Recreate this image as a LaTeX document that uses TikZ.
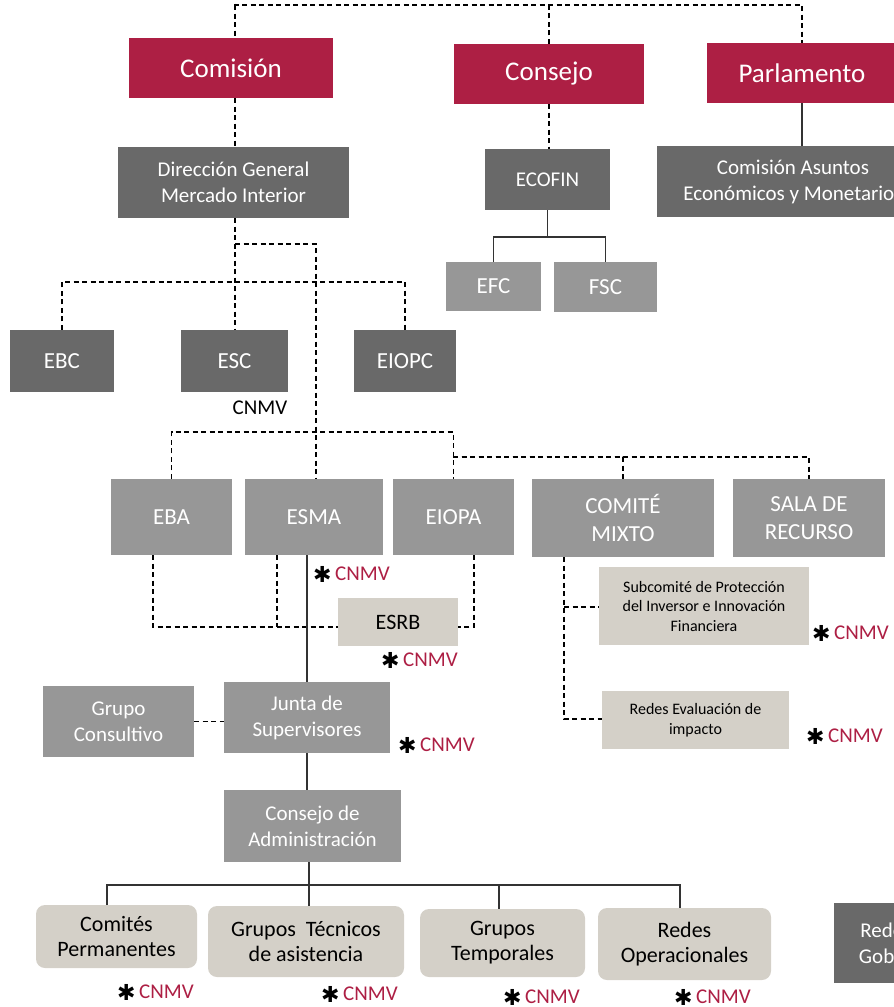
\documentclass[tikz,border=0pt]{standalone}
\usepackage{fontspec}
\setmainfont{Carlito}
\newfontfamily\dejavu{DejaVu Sans}
\definecolor{eured}{HTML}{AD1F44}
\definecolor{dkgray}{HTML}{696969}
\definecolor{mdgray}{HTML}{979797}
\definecolor{tanc}{HTML}{D4D0C8}
\newcommand\fsz[2]{\fontsize{#1}{#2}\selectfont}
\newcommand\astk{{\dejavu\fsz{22}{22}\raisebox{-2pt}{✱}}}
\begin{document}
\begin{tikzpicture}[x=1pt,y=-1pt,
  base/.style={rectangle, inner sep=0pt, align=center, text=white, font=\fsz{21}{26}},
  redbox/.style={base, fill=eured, font=\fsz{27}{30}},
  darkbox/.style={base, fill=dkgray},
  midbox/.style={base, fill=mdgray},
  tanbox/.style={base, fill=tanc, text=black},
  roundbox/.style={tanbox, rounded corners=9pt, font=\fsz{22}{25}},
  smalltan/.style={tanbox, font=\fsz{16}{19.5}},
  dashln/.style={draw=black, line width=1.4pt, dash pattern=on 5pt off 3.5pt},
  solidln/.style={draw=black!80, line width=1.4pt},
  cnmv/.style={anchor=west, inner sep=0pt, font=\fsz{21}{21}},
]
\useasboundingbox (0,0) rectangle (894,1007);

% top row
\node[redbox, minimum width=204, minimum height=60] (comision) at (231,68) {Comisión};
\node[redbox, minimum width=190, minimum height=60] (consejo) at (549,74) {Consejo};
\node[redbox, minimum width=190, minimum height=60] (parlamento) at (802,73) {Parlamento};

% second row
\node[darkbox, minimum width=231, minimum height=71] (dg) at (233.5,182.5) {Dirección General\\Mercado Interior};
\node[darkbox, minimum width=125, minimum height=61] (ecofin) at (547.5,179.5) {ECOFIN};
\node[darkbox, minimum width=272, minimum height=71] (casuntos) at (793,181.5) {Comisión Asuntos\\Económicos y Monetarios};

\node[midbox, minimum width=95, minimum height=49, font=\fsz{23}{26}] (efc) at (493.5,286.5) {EFC};
\node[midbox, minimum width=103, minimum height=50, font=\fsz{23}{26}] (fsc) at (605.5,287) {FSC};

% committees
\node[darkbox, minimum width=104, minimum height=62, font=\fsz{23}{26}] (ebc) at (62,361) {EBC};
\node[darkbox, minimum width=107, minimum height=62, font=\fsz{23}{26}] (esc) at (234.5,361) {ESC};
\node[darkbox, minimum width=102, minimum height=62, font=\fsz{23}{26}] (eiopc) at (405,361) {EIOPC};
\node[cnmv, anchor=center] (cnmvesc) at (260,408) {CNMV};

% agencies
\node[midbox, minimum width=121, minimum height=76, font=\fsz{23}{27}] (eba) at (171.5,517) {EBA};
\node[midbox, minimum width=138, minimum height=76, font=\fsz{23}{27}] (esma) at (314,517) {ESMA};
\node[midbox, minimum width=121, minimum height=76, font=\fsz{23}{27}] (eiopa) at (453.5,517) {EIOPA};
\node[midbox, minimum width=182, minimum height=78, font=\fsz{23}{28}] (comite) at (623,518) {COMITÉ\\MIXTO};
\node[midbox, minimum width=152, minimum height=78, font=\fsz{23}{28}] (sala) at (809,518) {SALA DE\\RECURSO};

\node[tanbox, minimum width=120, minimum height=48, font=\fsz{22}{26}] (esrb) at (398,622) {ESRB};
\node[smalltan, minimum width=210, minimum height=78] (subcom) at (704,606) {Subcomité de Protección\\del Inversor e Innovación\\Financiera};
\node[smalltan, minimum width=187, minimum height=58] (redeval) at (695.5,720) {Redes Evaluación de\\impacto};

\node[midbox, minimum width=151, minimum height=71] (grupo) at (118.5,721.5) {Grupo\\Consultivo};
\node[midbox, minimum width=166, minimum height=71] (junta) at (307,717.5) {Junta de\\Supervisores};
\node[midbox, minimum width=177, minimum height=72] (consejoadm) at (312.5,826) {Consejo de\\Administración};

% bottom boxes
\node[roundbox, minimum width=161, minimum height=63] (comites) at (116.5,936.5) {Comités\\Permanentes};
\node[roundbox, minimum width=196, minimum height=71] (gtec) at (306,941.5) {Grupos~ Técnicos\\de asistencia};
\node[roundbox, minimum width=165, minimum height=68] (gtemp) at (502.5,943) {Grupos\\Temporales};
\node[roundbox, minimum width=173, minimum height=72] (redesop) at (684.5,944) {Redes\\Operacionales};
\node[darkbox, minimum width=130, minimum height=80] (redgob) at (899,943) {Redes de\\Gobierno};

% CNMV labels
\node[cnmv] (c1) at (313,574) {\astk\,\textcolor{eured}{CNMV}};
\node[cnmv] (c2) at (381,660) {\astk\,\textcolor{eured}{CNMV}};
\node[cnmv] (c3) at (812,633) {\astk\,\textcolor{eured}{CNMV}};
\node[cnmv] (c4) at (806,736) {\astk\,\textcolor{eured}{CNMV}};
\node[cnmv] (c5) at (398,745) {\astk\,\textcolor{eured}{CNMV}};
\node[cnmv] (c6) at (117,992) {\astk\,\textcolor{eured}{CNMV}};
\node[cnmv] (c7) at (321,994) {\astk\,\textcolor{eured}{CNMV}};
\node[cnmv] (c8) at (503,997) {\astk\,\textcolor{eured}{CNMV}};
\node[cnmv] (c9) at (674,997) {\astk\,\textcolor{eured}{CNMV}};

% coordinates
\coordinate (t0) at (235,-5);
\coordinate (t1) at (235,5);
\coordinate (d1) at (235,244);
\coordinate (d2) at (235,282);
\coordinate (a0) at (316,432);
\coordinate (a1) at (453,457);
\coordinate (e1) at (548,237);
\coordinate (r1) at (153,627);
\coordinate (r2) at (277,627);
\coordinate (r3) at (474,627);
\coordinate (k1) at (564,607);
\coordinate (k2) at (564,719);
\coordinate (b0) at (309,885);
\coordinate (b1) at (107,885);
\coordinate (b2) at (499,885);
\coordinate (b3) at (680,885);

% top connectors
\draw[dashln] (t0) -- (t1) -| (parlamento.north);
\draw[dashln] (t1) -- (t1 |- comision.north);
\draw[dashln] (consejo.north) -- (consejo.north |- t1);
\draw[dashln] (t1 |- comision.south) -- (t1 |- dg.north);
\draw[dashln] (consejo.south) -- (consejo.south |- ecofin.north);
\draw[solidln] (parlamento.south) -- (parlamento.south |- casuntos.north);
\draw[solidln] (ecofin.south) -- (ecofin.south |- e1);
\draw[solidln] (efc.north) |- (e1) -| (fsc.north);

% DG connectors
\draw[dashln] (d1 |- dg.south) -- (d1 |- esc.north);
\draw[dashln] (d1) -| (a0 |- esma.north);
\draw[dashln] (ebc.north) |- (d2) -| (eiopc.north);
\draw[dashln] (eba.north) |- (a0) -| (eiopa.north);
\draw[dashln] (a1) -| (comite.north);
\draw[dashln] (a1) -| (sala.north);

% ESRB connectors
\draw[dashln] (r1 |- eba.south) -- (r1) -- (r1 -| esrb.west);
\draw[dashln] (r2 |- esma.south) -- (r2);
\draw[dashln] (r3 |- eiopa.south) -- (r3) -- (r3 -| esrb.east);
\draw[solidln] (junta.north) -- (junta.north |- esma.south);

% Comite connectors
\draw[dashln] (k1 |- comite.south) -- (k2) -- (k2 -| redeval.west);
\draw[dashln] (k1) -- (k1 -| subcom.west);

% Junta
\draw[dashln] (grupo.east) -- (grupo.east -| junta.west);
\draw[solidln] (junta.south) -- (junta.south |- consejoadm.north);
\draw[solidln] (b0 |- consejoadm.south) -- (b0);
\draw[solidln] (b1 |- comites.north) -- (b1) -- (b3) -- (b3 |- redesop.north);
\draw[solidln] (b0) -- (b0 |- gtec.north);
\draw[solidln] (b2) -- (b2 |- gtemp.north);
\end{tikzpicture}
\end{document}
